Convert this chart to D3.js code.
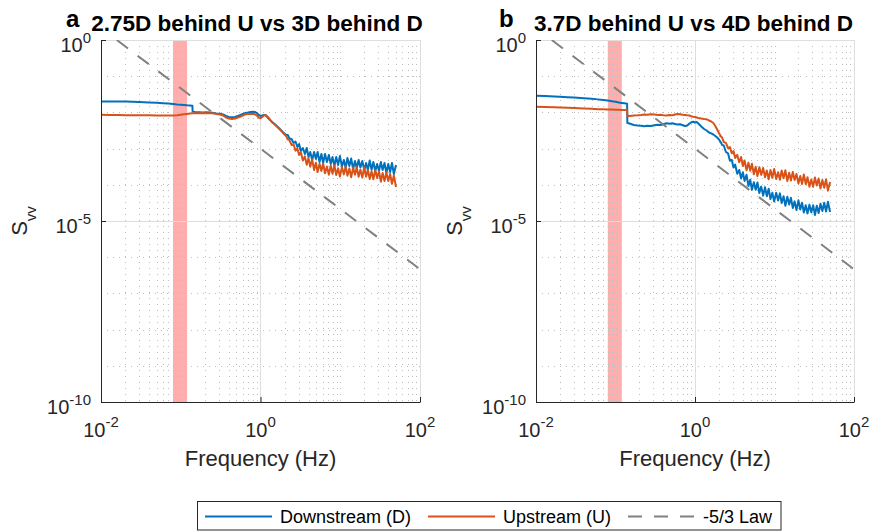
<!DOCTYPE html>
<html><head><meta charset="utf-8">
<script src="https://cdnjs.cloudflare.com/ajax/libs/d3/7.8.5/d3.min.js"></script>
<style>
body{margin:0;background:#fff}
svg{display:block}
text{font-family:"Liberation Sans",Arial,Helvetica,sans-serif}
</style>
</head><body>
<svg id="c" width="872" height="531"></svg>
<script>
// ---------------- DATA ----------------
const freq = [0.01,0.013,0.017,0.02,0.025,0.03,0.04,0.05,0.06,0.07,0.08,0.09,0.1,0.11,0.12,0.13,0.14,0.141,
 0.15,0.17,0.19,0.21,0.23,0.25,0.28,0.31,0.34,0.37,0.4,0.44,0.48,0.52,0.56,0.6,0.65,0.7,0.75,0.8,0.85,0.9,0.95,1.0,1.05,1.1,1.15,1.2,1.3,1.4,1.5,1.6,1.7,1.8,1.9,2.0,
 2.1,2.2,2.3,2.45,2.6,2.75,2.9,3.05,3.2,3.4,3.6,3.8,4.0,4.2,4.45,4.7,4.95,5.2,5.5,5.8,6.1,6.45,6.8,7.2,7.6,8.0,8.45,8.9,9.4,9.9,10.5,11.1,11.7,12.3,13,13.7,14.5,15.3,16.1,17,17.9,18.9,20,21.1,22.2,23.4,24.7,26,27.5,29,30.6,32.3,34,35.9,37.9,40,42.2,44.5,47,50];

// Panel a: 2.75D behind U vs 3D behind D
const downA = [1.99e-2,2.0e-2,2.0e-2,1.99e-2,1.96e-2,1.94e-2,1.89e-2,1.84e-2,1.80e-2,1.75e-2,1.71e-2,1.66e-2,1.63e-2,1.60e-2,1.57e-2,1.55e-2,1.53e-2,1.05e-2,
 1.03e-2,1.01e-2,9.9e-3,1.01e-2,9.9e-3,9.75e-3,9.4e-3,9.15e-3,8.75e-3,7.96e-3,7.46e-3,7.32e-3,7.46e-3,7.96e-3,8.48e-3,9.03e-3,9.62e-3,9.93e-3,1.03e-2,1.04e-2,1.03e-2,9.62e-3,8.48e-3,7.96e-3,8.21e-3,8.48e-3,8.48e-3,7.71e-3,6.37e-3,5.43e-3,4.79e-3,4.21e-3,3.71e-3,3.27e-3,2.88e-3,2.61e-3,
 2.38e-3,2.38e-3,1.90e-3,1.84e-3,1.43e-3,1.57e-3,1.11e-3,1.34e-3,8.6e-4,1.04e-3,7.1e-4,1.04e-3,5.87e-4,8.06e-4,4.85e-4,8.06e-4,5.17e-4,8.06e-4,4.27e-4,7.1e-4,4.01e-4,7.1e-4,4.27e-4,6.66e-4,3.76e-4,5.87e-4,3.31e-4,5.87e-4,3.53e-4,6.25e-4,3.21e-4,4.85e-4,2.92e-4,5.51e-4,3.31e-4,5.34e-4,2.74e-4,4.55e-4,2.92e-4,4.85e-4,3.0e-4,4.55e-4,2.57e-4,4.01e-4,2.57e-4,4.7e-4,2.6e-4,4.27e-4,2.41e-4,3.76e-4,2.41e-4,4.27e-4,2.57e-4,4.01e-4,2.12e-4,3.76e-4,2.26e-4,4.01e-4,1.99e-4,3.53e-4];
const upA = [8.6e-3,8.5e-3,8.5e-3,8.4e-3,8.4e-3,8.3e-3,8.3e-3,8.2e-3,8.2e-3,8.2e-3,8.2e-3,8.3e-3,8.6e-3,8.9e-3,9.1e-3,9.3e-3,9.4e-3,9.4e-3,
 9.44e-3,9.44e-3,9.62e-3,9.44e-3,9.44e-3,9.44e-3,9.03e-3,8.75e-3,8.21e-3,7.23e-3,6.78e-3,6.57e-3,6.78e-3,7.23e-3,7.61e-3,8.21e-3,8.87e-3,9.03e-3,9.03e-3,9.15e-3,8.87e-3,8.21e-3,7.23e-3,6.87e-3,7.46e-3,8.21e-3,8.48e-3,7.96e-3,6.57e-3,5.26e-3,4.69e-3,4.07e-3,3.59e-3,3.16e-3,2.79e-3,2.45e-3,
 2.23e-3,1.77e-3,1.73e-3,1.26e-3,1.30e-3,8.8e-4,1.01e-3,6.66e-4,8.06e-4,4.7e-4,6.1e-4,3.6e-4,5.5e-4,3.17e-4,4.98e-4,2.57e-4,4.06e-4,2.26e-4,3.83e-4,2.42e-4,3.88e-4,2.08e-4,3.19e-4,1.89e-4,3.4e-4,2.02e-4,3.44e-4,1.86e-4,2.86e-4,1.70e-4,3.07e-4,1.94e-4,3.19e-4,1.79e-4,2.84e-4,1.61e-4,2.98e-4,1.89e-4,3.05e-4,1.66e-4,2.63e-4,1.58e-4,3.0e-4,1.66e-4,2.62e-4,1.45e-4,2.36e-4,1.43e-4,2.55e-4,1.55e-4,2.36e-4,1.22e-4,2.11e-4,1.27e-4,2.17e-4,1.27e-4,1.99e-4,1.06e-4,1.80e-4,8.7e-5];

// Panel b: 3.7D behind U vs 4D behind D
const downB = [2.90e-2,2.82e-2,2.75e-2,2.70e-2,2.63e-2,2.56e-2,2.47e-2,2.38e-2,2.29e-2,2.20e-2,2.12e-2,2.04e-2,1.96e-2,1.89e-2,1.83e-2,1.78e-2,1.74e-2,5.1e-3,
 4.94e-3,4.49e-3,4.35e-3,4.27e-3,4.16e-3,4.27e-3,4.21e-3,4.41e-3,4.55e-3,4.49e-3,4.73e-3,5.0e-3,4.85e-3,5.0e-3,4.79e-3,4.61e-3,4.70e-3,4.41e-3,4.21e-3,4.35e-3,4.94e-3,5.33e-3,5.54e-3,5.26e-3,5.43e-3,4.94e-3,4.49e-3,4.08e-3,3.48e-3,3.16e-3,2.79e-3,2.62e-3,2.45e-3,2.23e-3,2.03e-3,1.79e-3,
 1.52e-3,1.25e-3,1.22e-3,8.06e-4,7.42e-4,4.64e-4,4.88e-4,3.0e-4,3.6e-4,2.03e-4,2.57e-4,1.49e-4,2.22e-4,1.28e-4,1.89e-4,9.2e-5,1.38e-4,7.3e-5,1.18e-4,7.3e-5,1.16e-4,5.95e-5,8.9e-5,5.05e-5,8.6e-5,4.85e-5,7.8e-5,4.04e-5,6.0e-5,3.45e-5,6.0e-5,3.67e-5,5.8e-5,3.15e-5,4.85e-5,2.62e-5,4.70e-5,2.85e-5,4.36e-5,2.27e-5,3.49e-5,2.0e-5,3.72e-5,2.07e-5,3.2e-5,1.72e-5,2.72e-5,1.62e-5,2.81e-5,1.73e-5,2.74e-5,1.47e-5,2.64e-5,1.66e-5,2.99e-5,1.90e-5,3.2e-5,1.83e-5,3.41e-5,1.78e-5];
const upB = [1.44e-2,1.41e-2,1.38e-2,1.37e-2,1.34e-2,1.32e-2,1.29e-2,1.26e-2,1.23e-2,1.22e-2,1.20e-2,1.20e-2,1.19e-2,1.18e-2,1.17e-2,1.17e-2,1.17e-2,7.96e-3,
 7.96e-3,8.21e-3,8.31e-3,8.48e-3,8.69e-3,8.59e-3,8.87e-3,8.69e-3,8.48e-3,8.59e-3,8.31e-3,8.21e-3,8.48e-3,8.37e-3,8.75e-3,9.04e-3,8.93e-3,8.59e-3,8.48e-3,8.31e-3,8.21e-3,7.86e-3,7.61e-3,7.47e-3,7.23e-3,7.01e-3,6.87e-3,6.74e-3,6.58e-3,6.46e-3,5.98e-3,5.61e-3,5.10e-3,4.21e-3,3.37e-3,2.70e-3,
 2.23e-3,2.0e-3,1.51e-3,1.44e-3,1.03e-3,1.10e-3,7.4e-4,8.6e-4,5.5e-4,6.7e-4,4.19e-4,5.87e-4,3.29e-4,4.7e-4,2.52e-4,4.1e-4,2.43e-4,3.8e-4,1.95e-4,3.13e-4,1.75e-4,3.07e-4,1.88e-4,2.92e-4,1.61e-4,2.49e-4,1.42e-4,2.57e-4,1.57e-4,2.75e-4,1.44e-4,2.23e-4,1.37e-4,2.49e-4,1.51e-4,2.51e-4,1.27e-4,2.16e-4,1.31e-4,2.25e-4,1.36e-4,1.99e-4,1.08e-4,1.74e-4,1.05e-4,1.92e-4,1.04e-4,1.61e-4,8.8e-5,1.40e-4,8.8e-5,1.59e-4,9.5e-5,1.50e-4,7.9e-5,1.36e-4,8.3e-5,1.43e-4,6.9e-5,1.20e-4];

// -5/3 reference law (two end points)
const lawFreq = [0.0158, 100];
const lawS = [1, 4.64e-7];
// highlighted frequency band
const bandFreq = [0.08, 0.12];

const panelLetters = ["a", "b"];
const panelTitles = ["2.75D behind U vs 3D behind D", "3.7D behind U vs 4D behind D"];
const xTicks = [1e-2, 1e0, 1e2];
const xTickExp = ["-2", "0", "2"];
const yTicks = [1e-10, 1e-5, 1e0];
const yTickExp = ["-10", "-5", "0"];
const xLabel = "Frequency (Hz)";
const legendLabels = ["Downstream (D)", "Upstream (U)", "-5/3 Law"];

// ---------------- DRAW ----------------
const svg = d3.select("#c");
svg.append("rect").attr("width", 872).attr("height", 531).attr("fill", "#fff");

const C_DOWN = "#0072BD", C_UP = "#D95319", C_LAW = "#808080", C_AX = "#262626";
const layout = [{x0: 101, x1: 420, lx: 66, tc: 257, yl: 27}, {x0: 536, x1: 854, lx: 499, tc: 693.5, yl: 462}];
const yTop = 40, yBot = 402;
const seriesByPanel = [[downA, upA], [downB, upB]];

const minorX = [];
for (let k = -2; k <= 1; k++) for (let m = 1; m <= 9; m++) {
  const v = m * Math.pow(10, k);
  if (!(m === 1 && (k === -2 || k === 0))) minorX.push(v);
}
const minorY = [];
for (let k = -9; k <= -1; k++) if (k !== -5) minorY.push(Math.pow(10, k));

layout.forEach((L, pi) => {
  const x = d3.scaleLog().domain([1e-2, 1e2]).range([L.x0, L.x1]);
  const y = d3.scaleLog().domain([1e-10, 1]).range([yBot, yTop]);
  const g = svg.append("g");

  const clipId = "clip" + pi;
  svg.append("clipPath").attr("id", clipId).append("rect")
    .attr("x", L.x0).attr("y", yTop).attr("width", L.x1 - L.x0).attr("height", yBot - yTop);

  // band
  g.append("rect").attr("x", x(bandFreq[0])).attr("y", yTop)
    .attr("width", x(bandFreq[1]) - x(bandFreq[0])).attr("height", yBot - yTop)
    .attr("fill", "#ff0000").attr("fill-opacity", 0.32);

  // minor grid
  g.selectAll(".mgx").data(minorX).enter().append("line")
    .attr("x1", d => Math.round(x(d)) + 0.5).attr("x2", d => Math.round(x(d)) + 0.5)
    .attr("y1", yTop).attr("y2", yBot)
    .attr("stroke", "#bdbdbd").attr("stroke-width", 1).attr("stroke-dasharray", "1,5");
  g.selectAll(".mgy").data(minorY).enter().append("line")
    .attr("y1", d => Math.round(y(d)) + 0.5).attr("y2", d => Math.round(y(d)) + 0.5)
    .attr("x1", L.x0).attr("x2", L.x1)
    .attr("stroke", "#bdbdbd").attr("stroke-width", 1).attr("stroke-dasharray", "1,5");
  // major grid
  g.selectAll(".Mgx").data(xTicks).enter().append("line")
    .attr("x1", d => Math.round(x(d)) + 0.5).attr("x2", d => Math.round(x(d)) + 0.5)
    .attr("y1", yTop).attr("y2", yBot).attr("stroke", "#dedede").attr("stroke-width", 1);
  g.selectAll(".Mgy").data(yTicks).enter().append("line")
    .attr("y1", d => Math.round(y(d)) + 0.5).attr("y2", d => Math.round(y(d)) + 0.5)
    .attr("x1", L.x0).attr("x2", L.x1).attr("stroke", "#dedede").attr("stroke-width", 1);

  // data lines
  const line = d3.line().x(d => x(d[0])).y(d => y(d[1]));
  const [dn, up] = seriesByPanel[pi];
  const lg = g.append("g").attr("clip-path", `url(#${clipId})`);
  lg.append("path").attr("d", line(d3.zip(freq, dn))).attr("fill", "none")
    .attr("stroke", C_DOWN).attr("stroke-width", 2).attr("stroke-linejoin", "round");
  lg.append("path").attr("d", line(d3.zip(freq, up))).attr("fill", "none")
    .attr("stroke", C_UP).attr("stroke-width", 2).attr("stroke-linejoin", "round");
  lg.append("path").attr("d", line(d3.zip(lawFreq, lawS))).attr("fill", "none")
    .attr("stroke", C_LAW).attr("stroke-width", 2).attr("stroke-dasharray", "14,12");

  // axes (ticks inside)
  const axB = g.append("g").attr("transform", `translate(0,${yBot})`);
  axB.call(d3.axisBottom(x).tickValues(minorX).tickSize(-3).tickSizeOuter(0).tickFormat(""));
  axB.call(d3.axisBottom(x).tickValues(xTicks).tickSize(-5).tickSizeOuter(0).tickFormat(""));
  const axL = g.append("g").attr("transform", `translate(${L.x0},0)`);
  axL.call(d3.axisLeft(y).tickValues(minorY).tickSize(-3).tickSizeOuter(0).tickFormat(""));
  axL.call(d3.axisLeft(y).tickValues(yTicks).tickSize(-5).tickSizeOuter(0).tickFormat(""));
  [axB, axL].forEach(a => { a.selectAll("path,line").attr("stroke", C_AX).attr("stroke-width", 1); });

  // x tick labels
  xTicks.forEach((v, i) => {
    const t = g.append("text").attr("x", x(v)).attr("y", 437).attr("text-anchor", "middle")
      .attr("fill", C_AX).attr("font-size", 20);
    t.append("tspan").text("10");
    t.append("tspan").attr("dy", -10).attr("font-size", 15).text(xTickExp[i]);
  });
  // y tick labels
  yTicks.forEach((v, i) => {
    const t = g.append("text").attr("x", L.x0 - 10).attr("y", y(v) + 12).attr("text-anchor", "end")
      .attr("fill", C_AX).attr("font-size", 20);
    t.append("tspan").text("10");
    t.append("tspan").attr("dy", -9).attr("font-size", 15).text(yTickExp[i]);
  });

  // axis labels
  g.append("text").attr("x", (L.x0 + L.x1) / 2).attr("y", 466).attr("text-anchor", "middle")
    .attr("fill", C_AX).attr("font-size", 22).text(xLabel);
  const yl = g.append("text").attr("transform", `translate(${L.yl},221) rotate(-90)`)
    .attr("text-anchor", "middle").attr("fill", C_AX).attr("font-size", 22);
  yl.append("tspan").text("S");
  yl.append("tspan").attr("dy", 9).attr("font-size", 15).text("vv");

  // titles
  g.append("text").attr("x", L.lx).attr("y", 27).attr("font-size", 24).attr("font-weight", "bold")
    .attr("fill", "#000").text(panelLetters[pi]);
  g.append("text").attr("x", L.tc).attr("y", 31).attr("text-anchor", "middle").attr("font-size", 22.5)
    .attr("font-weight", "bold").attr("fill", "#000").text(panelTitles[pi]);
});

// legend
const lgd = svg.append("g");
lgd.append("rect").attr("x", 197.5).attr("y", 501.5).attr("width", 583.5).attr("height", 28.5)
  .attr("fill", "#fff").attr("stroke", C_AX).attr("stroke-width", 1);
const legendItems = [
  {x: 205, color: C_DOWN, dash: null},
  {x: 428, color: C_UP, dash: null},
  {x: 628, color: C_LAW, dash: "14,12"}
];
legendItems.forEach((it, i) => {
  const l = lgd.append("line").attr("x1", it.x).attr("x2", it.x + 67).attr("y1", 516.5).attr("y2", 516.5)
    .attr("stroke", it.color).attr("stroke-width", 2);
  if (it.dash) l.attr("stroke-dasharray", it.dash);
  lgd.append("text").attr("x", it.x + 75).attr("y", 523).attr("font-size", 18).attr("fill", "#000")
    .text(legendLabels[i]);
});
</script>
</body></html>
